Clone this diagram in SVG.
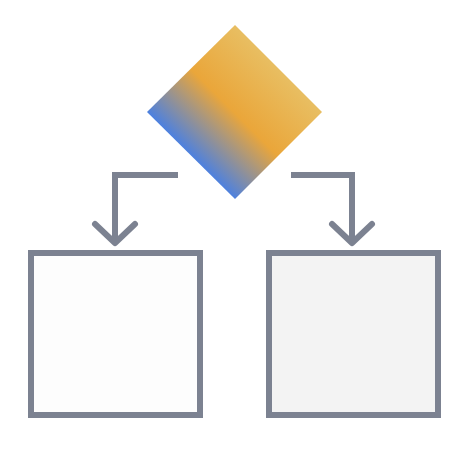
<svg xmlns="http://www.w3.org/2000/svg" width="469" height="469" viewBox="0 0 469 469">
<style>
.conn{fill:none;stroke:#7c8291;stroke-width:6}
.head{fill:none;stroke:#7c8291;stroke-width:6;stroke-linecap:round;stroke-linejoin:round}
.box{stroke:#7c8291;stroke-width:6}
</style>
<defs>
<linearGradient id="g" x1="190" y1="156" x2="278" y2="68" gradientUnits="userSpaceOnUse">
<stop offset="0" stop-color="#4a80e2"/>
<stop offset="0.5" stop-color="#eaa63a"/>
<stop offset="1" stop-color="#e8be62"/>
</linearGradient>
</defs>
<rect width="469" height="469" fill="#ffffff"/>
<g id="decision">
<polygon points="235,25 322,112 235,199 147,112" fill="url(#g)"/>
</g>
<g id="left-box">
<rect class="box" x="31" y="253" width="169" height="162" fill="#fdfdfd"/>
</g>
<g id="right-box">
<rect class="box" x="269" y="253" width="169" height="162" fill="#f3f3f3"/>
</g>
<g id="connectors">
<polyline class="conn" points="178,175 115,175 115,243"/>
<polyline class="head" points="95,224 115,243 135,224"/>
<polyline class="conn" points="291,175 352,175 352,243"/>
<polyline class="head" points="332,224 352,243 372,224"/>
</g>
</svg>
